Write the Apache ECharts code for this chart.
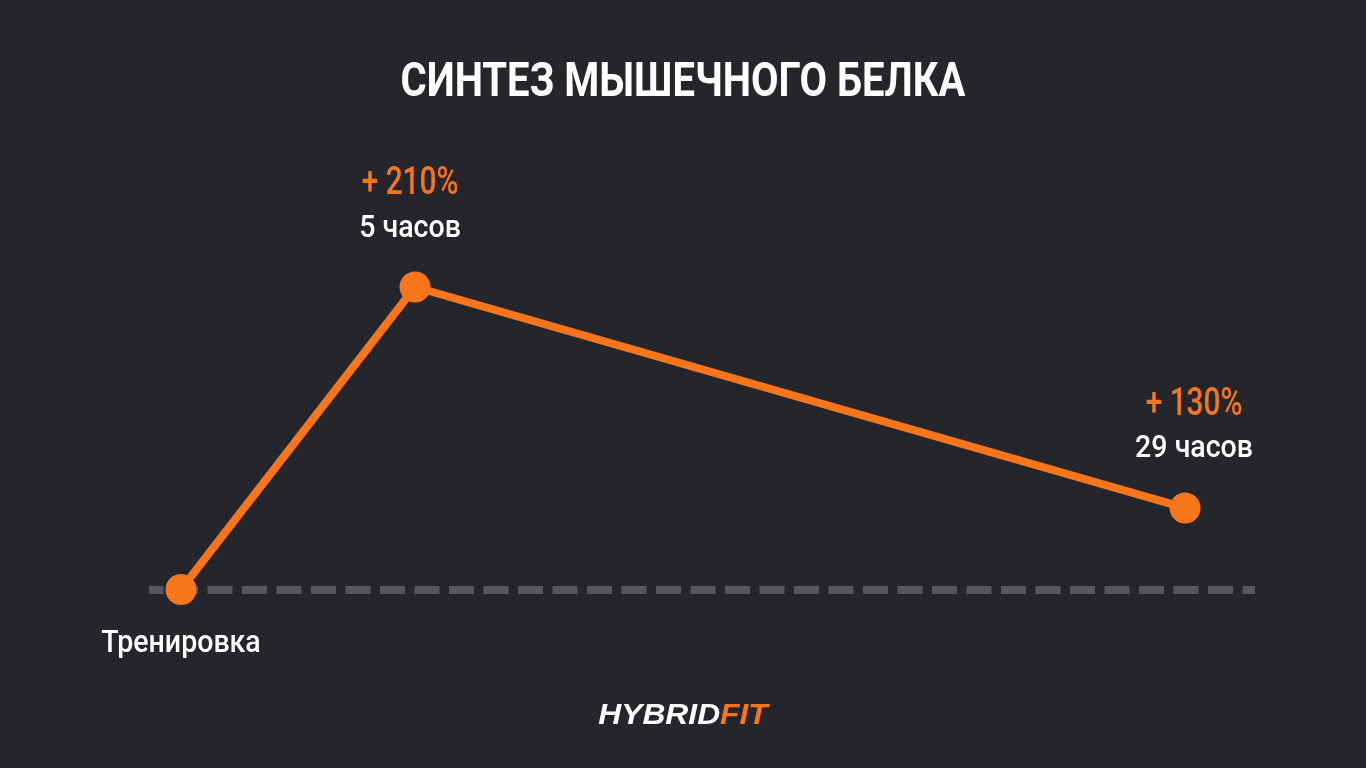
<!DOCTYPE html>
<html>
<head>
<meta charset="utf-8">
<script src="https://cdn.jsdelivr.net/npm/echarts@6/dist/echarts.min.js"></script>
<style>
html,body{margin:0;padding:0;background:#25262b;}
#c{width:1366px;height:768px;}
</style>
</head>
<body>
<div id="c"></div>
<script>
// Data (schematic chart: positions)
const titleText = 'СИНТЕЗ МЫШЕЧНОГО БЕЛКА';
const stageNames = ['Тренировка', '5 часов', '29 часов'];
const gainLabels = ['', '+ 210%', '+ 130%'];
const plotX = [0, 6.76, 29];      // horizontal position (schematic hours)
const plotY = [0, 210, 56.6];     // drawn level (schematic %)
const baselineLevel = 0;

// Styles / layout
const ORANGE = '#f7761b';
const BG = '#25262b';
const FAM = 'Roboto, "Noto Sans", sans-serif';
const titleFont = {size: 48, weight: 'bold', width: 565};
const pctFont = {size: 38, weight: 500, width: 96.7};
const hrsFont = {size: 32, weight: 500, width: 101.7};
const labelDx = [0, -5, 9];
const pctBaseDy = -93;
const hrsBaseDy = -50.5;
const stageBaseDy = 62;
const MID = 0.25;

const ctx = document.createElement('canvas').getContext('2d');
function fontStr(f) { return f.weight + ' ' + f.size + 'px ' + FAM; }
function scaleFor(f, sample) { ctx.font = fontStr(f); return f.width / ctx.measureText(sample).width; }
const titleScale = scaleFor(titleFont, titleText);
const pctScale = scaleFor(pctFont, gainLabels[1]);
const hrsScale = scaleFor(hrsFont, stageNames[1]);

const chart = echarts.init(document.getElementById('c'), null, {renderer: 'canvas'});

chart.setOption({
  backgroundColor: BG,
  animation: false,
  grid: {left: 149, right: 111, top: 287, bottom: 178.5, outerBoundsMode: 'none'},
  xAxis: {type: 'value', min: -0.924, max: 31.02, show: false},
  yAxis: {type: 'value', min: 0, max: 210, show: false},
  series: [
    {
      type: 'line', data: [], z: 1, silent: true,
      markLine: {
        silent: true, symbol: 'none', z: 1, label: {show: false},
        lineStyle: {color: '#53565e', width: 8, type: [25, 9.5], dashOffset: 10.5, cap: 'butt'},
        data: [{yAxis: baselineLevel}]
      }
    },
    {
      type: 'line', z: 3, clip: false,
      data: plotX.map((x, i) => [x, plotY[i]]),
      symbol: 'circle', symbolSize: 31,
      itemStyle: {color: ORANGE},
      lineStyle: {color: ORANGE, width: 8}
    }
  ]
});

function textEl(text, x, baseY, f, scale, color) {
  return {
    type: 'text', x: x, y: baseY - MID * f.size, scaleX: scale, silent: true, z: 10,
    style: {
      text: text, x: 0, y: 0, align: 'center', verticalAlign: 'middle',
      fill: color, fontFamily: FAM, fontWeight: f.weight, fontSize: f.size
    }
  };
}

const graphics = [];
graphics.push(textEl(titleText, 683, 96, titleFont, titleScale, '#ffffff'));
plotX.forEach((x, i) => {
  const p = chart.convertToPixel({seriesIndex: 1}, [x, plotY[i]]);
  const cx = p[0] + labelDx[i];
  if (i === 0) {
    graphics.push(textEl(stageNames[i], cx, p[1] + stageBaseDy, hrsFont, hrsScale, '#ffffff'));
  } else {
    graphics.push(textEl(gainLabels[i], cx, p[1] + pctBaseDy, pctFont, pctScale, ORANGE));
    graphics.push(textEl(stageNames[i], cx, p[1] + hrsBaseDy, hrsFont, hrsScale, '#ffffff'));
  }
});
// brand logo
graphics.push({
  type: 'text', x: 683, y: 716, silent: true, scaleX: 1.06,
  style: {
    text: '{a|HYBRID}{b|FIT}', x: 0, y: 0, align: 'center', verticalAlign: 'middle',
    rich: {
      a: {fill: '#ffffff', fontFamily: '"Liberation Sans", Arial, sans-serif', fontWeight: 'bold', fontStyle: 'italic', fontSize: 30},
      b: {fill: ORANGE, fontFamily: '"Liberation Sans", Arial, sans-serif', fontWeight: 'bold', fontStyle: 'italic', fontSize: 30}
    }
  }
});
chart.setOption({graphic: graphics});
</script>
</body>
</html>
